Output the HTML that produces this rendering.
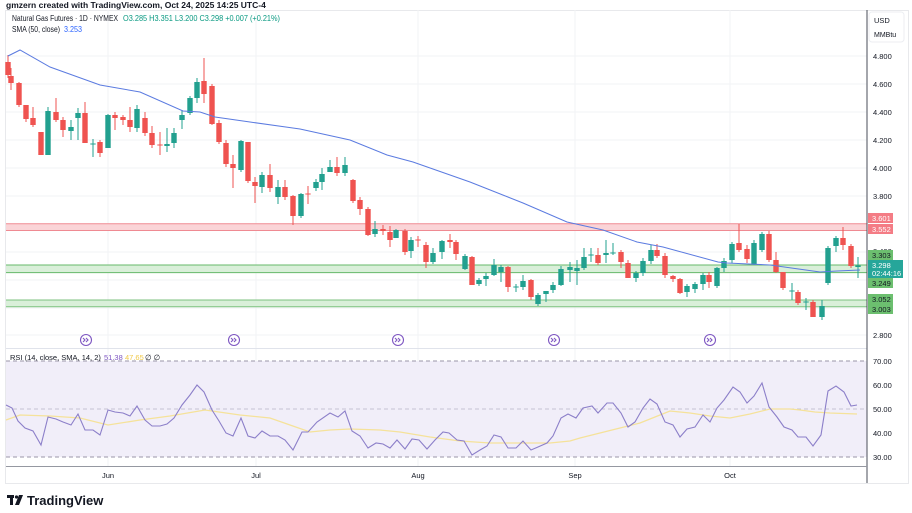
<!DOCTYPE html>
<html><head><meta charset="utf-8">
<style>
html,body{margin:0;padding:0;background:#fff;width:912px;height:513px;overflow:hidden}
svg{display:block;font-family:"Liberation Sans",sans-serif}
</style></head>
<body>
<svg id="s" width="912" height="513" xmlns="http://www.w3.org/2000/svg">
<rect x="0" y="0" width="912" height="513" fill="#fff"/>
<text x="6" y="8" font-size="8.5" fill="#131722" font-weight="bold">gmzern created with TradingView.com, Oct 24, 2025 14:25 UTC-4</text>
<rect x="5.5" y="10.5" width="903" height="473" fill="none" stroke="#e8e9ec"/>
<g id="grid" stroke="#f2f3f5" stroke-width="1"></g>
<!-- zones -->
<rect x="6" y="223.7" width="861" height="6.8" fill="#fad4d7"/>
<line x1="6" x2="867" y1="223.7" y2="223.7" stroke="#ef8a92"/>
<line x1="6" x2="867" y1="230.5" y2="230.5" stroke="#ef8a92"/>
<rect x="6" y="265" width="861" height="7.6" fill="#d9efd9"/>
<line x1="6" x2="867" y1="265" y2="265" stroke="#66b86a"/>
<line x1="6" x2="867" y1="272.6" y2="272.6" stroke="#66b86a"/>
<rect x="6" y="300" width="861" height="6.8" fill="#d9efd9"/>
<line x1="6" x2="867" y1="300" y2="300" stroke="#7cc27f"/>
<line x1="6" x2="867" y1="306.8" y2="306.8" stroke="#7cc27f"/>
<g id="candles"></g>
<polyline id="sma" fill="none" stroke="#5b7be0" stroke-width="1" points="8,56 20,50 50,67 100,85 140,92 183,111 200,112 215,117 250,122 300,129 350,140 387,155 413,162 470,182 523,203 567,222 603,230 637,242 663,247 718,262 727,263 770,265 820,272 837,271 860,270"/>
<!-- header -->
<text x="12" y="21" font-size="8" fill="#131722" textLength="106" lengthAdjust="spacingAndGlyphs">Natural Gas Futures · 1D · NYMEX</text>
<text x="123" y="21" font-size="8" fill="#089981" textLength="157" lengthAdjust="spacingAndGlyphs">O3.285  H3.351  L3.200  C3.298  +0.007 (+0.21%)</text>
<text x="12" y="32" font-size="8" fill="#131722" textLength="48" lengthAdjust="spacingAndGlyphs">SMA (50, close)</text>
<text x="64" y="32" font-size="8" fill="#2962ff" textLength="18" lengthAdjust="spacingAndGlyphs">3.253</text>
<!-- icons -->
<g id="icons" fill="none" stroke="#7e57c2" stroke-width="1.1"></g>
<line x1="6" x2="867" y1="348.5" y2="348.5" stroke="#e0e3eb"/>
<!-- RSI pane -->
<rect x="6" y="361" width="861" height="96" fill="#f1eef9"/>
<g stroke="#9a96a8" stroke-dasharray="4,3" stroke-width="1">
<line x1="6" x2="867" y1="361" y2="361"/><line x1="6" x2="867" y1="409" y2="409" stroke="#c5c2d2"/><line x1="6" x2="867" y1="457" y2="457"/></g>
<polyline id="rsiSma" fill="none" stroke="#f5e29a" stroke-width="1.3" points="6,420 20,415 50,416 80,418 108,425 140,420 170,416 205,410 240,415 270,418 290,425 310,432 330,430 350,429 380,430 400,432 430,437 460,441 490,443 520,443 550,443 570,441 580,438 600,433 620,428 640,423 660,415 670,411 690,413 710,416 730,418 750,414 770,409 790,409 800,410 815,412 830,413 857,414"/>
<polyline fill="none" stroke="#8c7fc9" stroke-width="1.1" points="6,405 12,408 18,421 25,428 33,431 41,445 48,417 56,419 63,422 71,425 78,414 85,430 93,430 100,435 108,410 115,412 123,413 130,416 137,406 145,420 152,426 160,426 167,424 174,418 182,405 190,395 197,385 204,392 212,410 219,421 226,433 233,436 241,418 248,436 255,438 262,431 270,436 278,436 285,440 293,450 302,432 308,432 317,422 330,413 338,417 345,411 352,431 360,436 368,448 376,443 383,444 390,448 397,440 405,449 412,439 419,440 427,449 435,440 443,432 449,433 457,440 464,441 472,455 480,450 487,446 494,435 501,437 508,448 516,448 523,441 531,450 538,447 547,443 553,436 561,418 568,414 576,418 583,408 592,406 598,413 607,403 613,403 621,413 628,427 635,422 643,408 650,399 657,404 665,422 673,425 680,437 687,429 695,427 703,415 710,422 717,408 724,400 733,387 740,392 747,403 754,396 762,383 769,407 777,417 784,427 792,430 798,437 806,437 813,446 821,435 828,391 836,386 844,392 851,406 857,405"/>
<text x="10" y="360" font-size="7.5" fill="#131722">RSI (14, close, SMA, 14, 2)</text>
<text x="104" y="360" font-size="7.5" fill="#7e57c2">51.38</text>
<text x="125" y="360" font-size="7.5" fill="#f0c94a">47.65</text>
<text x="145" y="360" font-size="7.5" fill="#131722">∅  ∅</text>
<!-- axes -->
<line x1="867" x2="867" y1="10" y2="483" stroke="#4a4e59"/>
<line x1="6" x2="867" y1="466.5" y2="466.5" stroke="#9598a1"/>
<g font-size="7.5" fill="#131722" text-anchor="middle">
<text x="108" y="478">Jun</text><text x="256" y="478">Jul</text><text x="418" y="478">Aug</text><text x="575" y="478">Sep</text><text x="730" y="478">Oct</text></g>
<rect x="869" y="12" width="35" height="30" rx="3" fill="#fff" stroke="#eceef2"/>
<text x="874" y="23" font-size="7.5" fill="#131722">USD</text>
<text x="874" y="37" font-size="7" fill="#131722">MMBtu</text>
<g font-size="7.5" fill="#131722">
<text x="873" y="59">4.800</text><text x="873" y="87">4.600</text><text x="873" y="115">4.400</text><text x="873" y="143">4.200</text><text x="873" y="171">4.000</text><text x="873" y="199">3.800</text><text x="873" y="254">3.400</text><text x="873" y="338">2.800</text>
<text x="873" y="364">70.00</text><text x="873" y="388">60.00</text><text x="873" y="412">50.00</text><text x="873" y="436">40.00</text><text x="873" y="460">30.00</text>
</g>
<rect x="868" y="213" width="25" height="10" fill="#f47c85"/><text x="872" y="221" font-size="7.5" fill="#fff">3.601</text>
<rect x="868" y="224" width="25" height="10" fill="#f47c85"/><text x="872" y="232" font-size="7.5" fill="#fff">3.552</text>
<rect x="868" y="250" width="25" height="10" fill="#6cbf6f"/><text x="872" y="258" font-size="7.5" fill="#131722">3.303</text>
<rect x="868" y="260" width="35" height="18" fill="#26a69a"/><text x="872" y="268" font-size="7.5" fill="#fff">3.298</text><text x="872" y="276" font-size="7.5" fill="#fff">02:44:16</text>
<rect x="868" y="278" width="25" height="10" fill="#6cbf6f"/><text x="872" y="286" font-size="7.5" fill="#131722">3.249</text>
<rect x="868" y="294" width="25" height="10" fill="#6cbf6f"/><text x="872" y="302" font-size="7.5" fill="#131722">3.052</text>
<rect x="868" y="304" width="25" height="10" fill="#6cbf6f"/><text x="872" y="312" font-size="7.5" fill="#131722">3.003</text>
<!-- logo -->
<g fill="#131722"><rect x="7" y="495" width="7" height="3"/><rect x="10" y="495" width="3" height="10"/><circle cx="16.5" cy="497" r="1.6"/><path d="M19 495 L23 495 L19 505 L15 505 Z"/></g>
<text x="27" y="505" font-size="13" font-weight="bold" fill="#131722">TradingView</text>
</svg>
<script>
var NS="http://www.w3.org/2000/svg";
function el(p,t,a){var e=document.createElementNS(NS,t);for(var k in a)e.setAttribute(k,a[k]);p.appendChild(e);return e;}
var g=document.getElementById('grid');
[56,84,112,140,168,196,252,280,308,335].forEach(function(y){el(g,'line',{x1:6,x2:867,y1:y,y2:y});});
[385,433].forEach(function(y){el(g,'line',{x1:6,x2:867,y1:y,y2:y});});
[108,256,418,575,730].forEach(function(x){el(g,'line',{x1:x,x2:x,y1:10,y2:466});});
var C=[
[8,62,75,55,78,'r'],[11,76,83,68,90,'r'],[19,83,105,82,107,'r'],[26,105,119,108,122,'r'],[33,118,125,107,127,'r'],[41,132,155,132,155,'r'],[48,111,155,107,155,'g'],[56,112,120,98,122,'r'],[63,120,130,117,137,'r'],[71,127,131,120,140,'g'],[78,113,118,108,140,'g'],[85,113,143,102,143,'r'],[93,143.5,144.5,139,157,'g'],[100,142,153,140,157,'r'],[108,115,148,114,148,'g'],[115,115,118,112,130,'r'],[123,117,120,115,125,'r'],[130,120,127,107,132,'r'],[137,109,128,105,132,'g'],[145,118,133,112,136,'r'],[152,133,145,126,148,'r'],[160,144.5,145.5,132,155,'r'],[167,144,146,128,152,'g'],[174,133,143,128,148,'g'],[182,115,120,110,129,'g'],[190,98,113,96,115,'g'],[197,82,98,78,103,'g'],[204,81,94,58,103,'r'],[212,86,124,84,125,'r'],[219,123,142,120,144,'r'],[226,143,164,140,167,'r'],[233,164,168,155,188,'r'],[241,141,170,140,172,'g'],[248,142,181,142,183,'r'],[255,182,186,177,203,'r'],[262,175,187,172,193,'g'],[270,175,188,164,192,'r'],[278,187,197,180,204,'g'],[285,187,197,180,200,'r'],[293,196,216,195,225,'r'],[301,194,216,193,218,'g'],[308,193.5,194.5,186,204,'r'],[316,182,188,179,191,'g'],[322,174,182,168,190,'g'],[330,167,172,160,172,'g'],[337,167,173,157,176,'r'],[345,165,173,157,176,'g'],[353,180,201,179,203,'r'],[360,200,209,197,215,'r'],[368,209,235,207,236,'r'],[375,229,234,221,237,'g'],[383,229,231,225,235,'r'],[390,232,240,226,247,'r'],[396,230,238,229,238,'g'],[405,231,252,229,255,'r'],[411,240,251,237,258,'g'],[418,239.5,240.5,236,247,'r'],[426,245,262,242,268,'r'],[433,253,262,248,264,'g'],[442,241,252,240,259,'g'],[450,240,242,234,248,'r'],[456,242,254,240,260,'r'],[465,256,269,254,270,'g'],[472,257,285,256,285,'r'],[479,280,284,278,286,'g'],[486,276,279,273,286,'g'],[494,265,275,259,276,'g'],[501,267,272,265,282,'g'],[508,267,287,266,292,'r'],[516,286.5,287.5,284,292,'g'],[523,281,287,275,290,'g'],[531,280,297,279,300,'r'],[538,295,304,293,306,'g'],[546,291,294,291,302,'g'],[553,285,290,282,293,'g'],[561,269,285,266,286,'g'],
[570,267,270,262,282,'g'],[577,268,271,260,285,'g'],[584,257,268,248,270,'g'],[591,254.5,255.5,248,262,'g'],[598,255,263,248,265,'r'],[606,253,255,240,263,'g'],[613,252.5,253.5,243,255,'g'],[621,252,262,250,268,'r'],[628,263,278,260,278,'r'],[636,273,278,271,282,'g'],[643,261,273,258,276,'g'],[651,250,261,245,264,'g'],[657,250,256,244,258,'r'],[665,256,275,253,278,'r'],[673,276,279,275,282,'r'],[680,279,293,278,294,'r'],[687,286,292,284,297,'g'],[695,284,289,282,293,'g'],[703,275,284,273,290,'g'],[709,275,282,272,288,'r'],[717,268,286,267,288,'g'],[724,261,268,258,272,'g'],[732,244,260,242,263,'g'],[739,243,250,224,252,'r'],[747,249,259,245,263,'r'],[754,243,264,240,265,'g'],[762,234,250,232,252,'g'],[769,234,260,231,262,'r'],[776,260,272,252,273,'r'],[783,272,288,272,290,'r'],[792,290.5,291.5,283,300,'g'],[798,292,303,290,305,'r'],[806,301.5,302.5,298,310,'g'],[813,302,317,300,317,'r'],[822,306,317,300,320,'g'],[828,248,283,246,285,'g'],[836,238,246,236,252,'g'],[843,238,245,227,250,'r'],[851,246,266,244,268,'r'],[858,265.5,267,257,278,'g']];
var cg=document.getElementById('candles');
C.forEach(function(c){var col=c[5]=='g'?'#22a08f':'#ef5350';
el(cg,'line',{x1:c[0],x2:c[0],y1:c[3],y2:c[4],stroke:col,'stroke-width':1});
el(cg,'rect',{x:c[0]-2.7,y:c[1],width:5.4,height:Math.max(1,c[2]-c[1]),fill:col});});
var ig=document.getElementById('icons');
[86,234,398,554,710].forEach(function(x){el(ig,'circle',{cx:x,cy:340,r:5.5});el(ig,'path',{d:'M'+(x-3)+' 338 l2 2 l-2 2 M'+(x)+' 338 l2 2 l-2 2'});});
</script>
</body></html>
